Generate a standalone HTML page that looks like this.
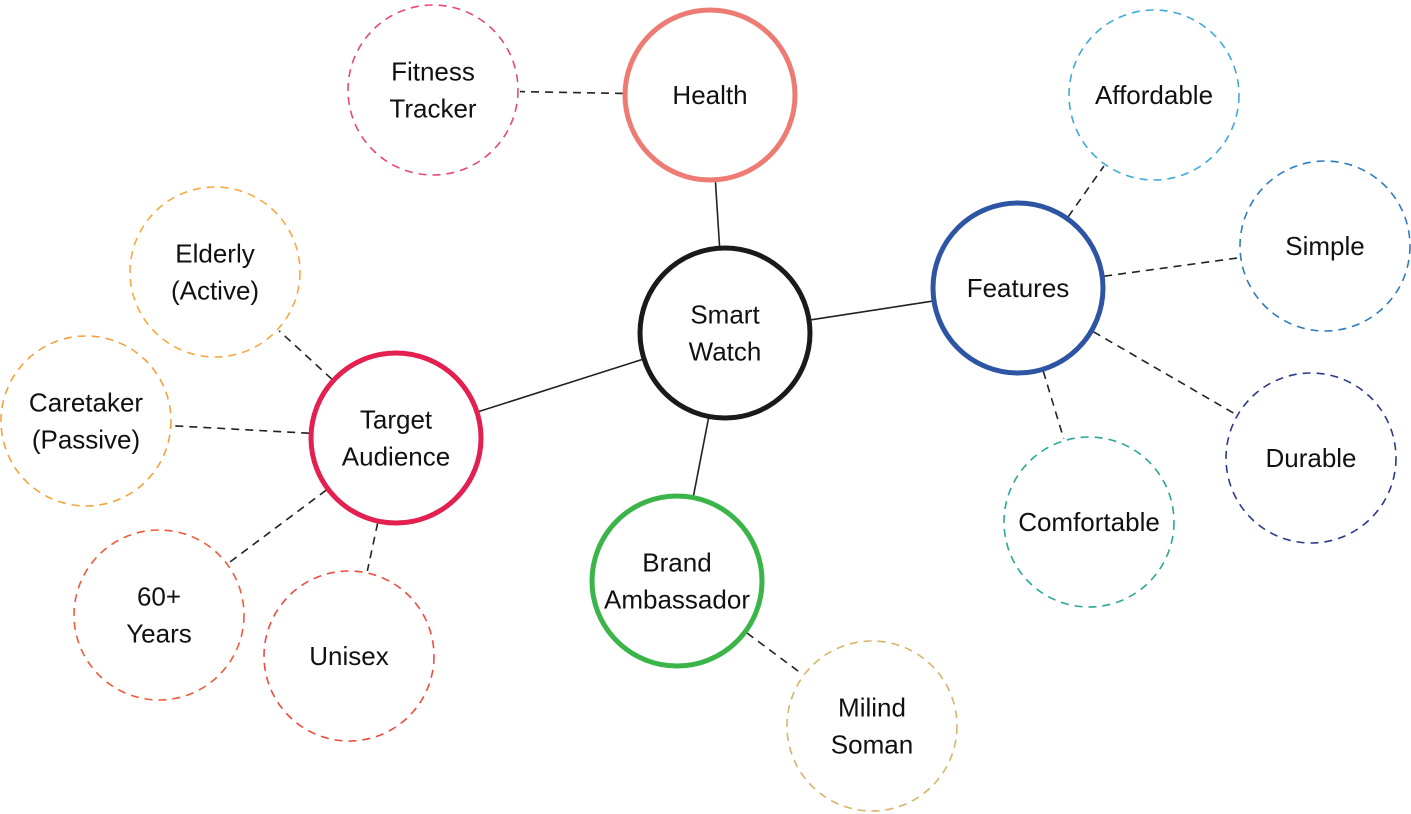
<!DOCTYPE html>
<html><head><meta charset="utf-8">
<style>
html,body{margin:0;padding:0;background:#fff;}
svg{display:block;}
text{font-family:"Liberation Sans",sans-serif;font-size:26px;fill:#111;}
</style></head>
<body>
<svg id="map" width="1411" height="814" viewBox="0 0 1411 814" xmlns="http://www.w3.org/2000/svg"></svg>
<script>
const nodeNames = ["Smart Watch","Health","Features","Target Audience","Brand Ambassador","Fitness Tracker","Affordable","Simple","Durable","Comfortable","Elderly (Active)","Caretaker (Passive)","60+ Years","Unisex","Milind Soman"];
const nodeLabels = [["Smart","Watch"],["Health"],["Features"],["Target","Audience"],["Brand","Ambassador"],["Fitness","Tracker"],["Affordable"],["Simple"],["Durable"],["Comfortable"],["Elderly","(Active)"],["Caretaker","(Passive)"],["60+","Years"],["Unisex"],["Milind","Soman"]];
const nodeX = [725,710,1018,396,677,433,1154,1325,1311,1089,215,86,159,349,872];
const nodeY = [333,95,288,438,581,90,95,246,458,522,272,421,615,656,726];
const nodeColors = ["#1a1a1a","#ee7b73","#2d55a4","#e3204f","#3bb44a","#e8457e","#3fa9d9","#2d7cc1","#2b3a8a","#2aa69a","#f7a941","#f5a23c","#f05a3a","#ef4a3b","#d8b36a"];
const nodeDashed = [0,0,0,0,0,1,1,1,1,1,1,1,1,1,1];
const links = [[0,1],[0,2],[0,3],[0,4],[1,5],[2,6],[2,7],[2,8],[2,9],[3,10],[3,11],[3,12],[3,13],[4,14]];
const R = 85;
const NS = "http://www.w3.org/2000/svg";
const svg = document.getElementById("map");
const slug = s => s.toLowerCase().replace(/[^a-z0-9]+/g,"-").replace(/^-|-$/g,"");

links.forEach(([a,b]) => {
  const dx = nodeX[b]-nodeX[a], dy = nodeY[b]-nodeY[a], d = Math.hypot(dx,dy);
  const ux = dx/d, uy = dy/d;
  const ra = R+2, rb = R+2;
  const l = document.createElementNS(NS,"line");
  l.setAttribute("x1", nodeX[a]+ux*ra); l.setAttribute("y1", nodeY[a]+uy*ra);
  l.setAttribute("x2", nodeX[b]-ux*rb); l.setAttribute("y2", nodeY[b]-uy*rb);
  l.setAttribute("stroke","#222"); l.setAttribute("stroke-width","1.6");
  if (nodeDashed[b]) l.setAttribute("stroke-dasharray","8 6");
  
  
  svg.appendChild(l);
});

nodeNames.forEach((n,i) => {
  const g = document.createElementNS(NS,"g");
  
  
  const c = document.createElementNS(NS,"circle");
  c.setAttribute("cx", nodeX[i]); c.setAttribute("cy", nodeY[i]); c.setAttribute("r", R);
  c.setAttribute("fill","#fff"); c.setAttribute("stroke", nodeColors[i]);
  c.setAttribute("stroke-width", nodeDashed[i] ? "1.6" : "5");
  if (nodeDashed[i]) c.setAttribute("stroke-dasharray","8 6");
  
  
  g.appendChild(c);
  const lines = nodeLabels[i];
  lines.forEach((t,k) => {
    const tx = document.createElementNS(NS,"text");
    tx.setAttribute("x", nodeX[i]);
    tx.setAttribute("y", nodeY[i] + (k - (lines.length-1)/2)*37 + 9);
    tx.setAttribute("text-anchor","middle");
    tx.textContent = t;
    
    
    g.appendChild(tx);
  });
  svg.appendChild(g);
});
</script>
</body></html>
